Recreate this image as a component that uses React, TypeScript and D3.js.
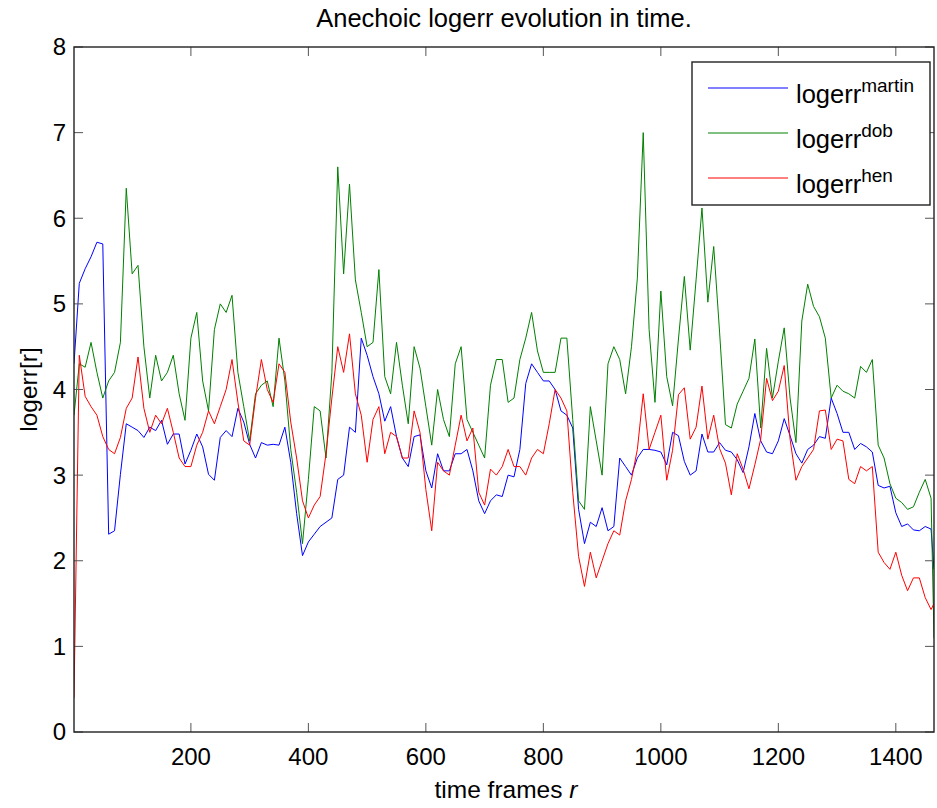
import React from 'react';
import { scaleLinear, line, range } from 'd3';

// frame indices sampled every 10 frames (first and last frame included)
const frames = [1, ...range(10, 1470, 10), 1465];

const logerrMartin = [
  4.3, 5.24, 5.41, 5.55, 5.72, 5.7, 2.31, 2.35, 3.01, 3.6, 3.56, 3.52, 3.44, 3.56, 3.52, 3.64, 3.36, 3.48, 3.48, 3.13,
  3.29, 3.48, 3.33, 3.01, 2.94, 3.44, 3.52, 3.45, 3.78, 3.62, 3.36, 3.2, 3.38, 3.35, 3.36, 3.35, 3.56, 3.15, 2.55, 2.06,
  2.22, 2.31, 2.4, 2.45, 2.5, 2.95, 3.0, 3.56, 3.5, 4.6, 4.4, 4.15, 3.95, 3.63, 3.8, 3.45, 3.2, 3.1, 3.45, 3.47,
  3.05, 2.85, 3.25, 3.05, 3.05, 3.25, 3.25, 3.3, 3.05, 2.7, 2.55, 2.7, 2.77, 2.75, 3.0, 2.98, 3.3, 4.07, 4.3, 4.2,
  4.1, 4.1, 4.0, 3.75, 3.7, 3.55, 2.6, 2.2, 2.45, 2.4, 2.62, 2.35, 2.4, 3.2, 3.1, 3.0, 3.2, 3.3, 3.3, 3.29,
  3.27, 3.12, 3.5, 3.46, 3.16, 3.0, 3.05, 3.48, 3.27, 3.27, 3.38, 3.29, 3.27, 3.18, 3.03, 3.33, 3.72, 3.4, 3.27, 3.25,
  3.4, 3.66, 3.46, 3.25, 3.14, 3.3, 3.35, 3.45, 3.43, 3.9, 3.72, 3.5, 3.5, 3.3, 3.37, 3.33, 3.27, 2.88, 2.85, 2.87,
  2.56, 2.4, 2.43, 2.36, 2.35, 2.4, 2.37, 1.9
];

const logerrDob = [
  3.7, 4.3, 4.26, 4.55, 4.2, 3.9, 4.1, 4.2, 4.55, 6.35, 5.35, 5.45, 4.5, 3.9, 4.4, 4.1, 4.2, 4.4, 3.95, 3.64,
  4.6, 4.9, 4.1, 3.75, 4.7, 5.0, 4.9, 5.1, 4.2, 3.8, 3.4, 3.95, 4.05, 4.1, 3.8, 4.6, 4.1, 3.3, 2.8, 2.2,
  2.95, 3.8, 3.75, 3.2, 4.2, 6.6, 5.35, 6.4, 5.28, 4.9, 4.5, 4.55, 5.4, 4.15, 3.95, 4.55, 4.05, 3.6, 4.5, 4.25,
  3.8, 3.35, 4.0, 3.65, 3.45, 4.3, 4.5, 3.65, 3.5, 3.35, 3.2, 4.05, 4.35, 4.35, 3.85, 3.9, 4.35, 4.6, 4.9, 4.45,
  4.2, 4.2, 4.2, 4.6, 4.6, 3.65, 2.7, 2.6, 3.8, 3.4, 3.0, 4.3, 4.5, 4.35, 3.95, 4.5, 5.3, 7.0, 4.7, 3.85,
  5.15, 4.15, 3.81, 4.59, 5.32, 4.46, 5.28, 6.12, 5.02, 5.67, 4.67, 3.59, 3.55, 3.83, 3.98, 4.13, 4.59, 3.55, 4.48, 3.9,
  4.33, 4.72, 3.9, 3.38, 4.8, 5.23, 4.97, 4.85, 4.6, 3.9, 4.05, 3.98, 3.95, 3.9, 4.27, 4.2, 4.35, 3.35, 3.2, 2.9,
  2.73, 2.68, 2.6, 2.63, 2.8, 2.95, 2.73, 1.1
];

const logerrHen = [
  0.4, 4.4, 3.92, 3.8, 3.7, 3.45, 3.3, 3.25, 3.44, 3.78, 3.9, 4.38, 3.78, 3.5, 3.7, 3.6, 3.78, 3.5, 3.2, 3.1,
  3.1, 3.35, 3.5, 3.75, 3.6, 3.8, 4.0, 4.35, 3.85, 3.4, 3.35, 3.9, 4.35, 4.0, 3.85, 4.3, 4.2, 3.62, 3.2, 2.7,
  2.5, 2.65, 2.75, 3.25, 3.9, 4.5, 4.2, 4.65, 3.95, 3.7, 3.15, 3.65, 3.8, 3.25, 3.5, 3.45, 3.2, 3.2, 3.75, 3.5,
  2.83, 2.35, 3.15, 3.05, 3.0, 3.35, 3.7, 3.4, 3.55, 2.8, 2.65, 3.07, 3.0, 3.1, 3.3, 3.1, 3.1, 3.0, 3.2, 3.3,
  3.25, 3.6, 4.0, 3.9, 3.75, 2.8, 2.05, 1.7, 2.1, 1.8, 2.0, 2.2, 2.35, 2.3, 2.7, 2.95, 3.3, 3.95, 3.3, 3.5,
  3.7, 2.94, 3.29, 3.94, 4.02, 3.42, 3.56, 4.04, 3.42, 3.7, 3.31, 3.14, 2.77, 3.25, 3.07, 2.84, 3.12, 3.42, 4.13, 3.87,
  3.98, 4.28, 3.42, 2.94, 3.1, 3.2, 3.3, 3.75, 3.76, 3.3, 3.42, 3.4, 2.95, 2.9, 3.1, 3.05, 3.1, 2.1, 1.98, 1.9,
  2.1, 1.83, 1.65, 1.8, 1.8, 1.57, 1.43, 1.5
];

const seriesNames = ['martin', 'dob', 'hen'];
const seriesColors = ['#0000ff', '#008000', '#ff0000'];
const xTicks = [200, 400, 600, 800, 1000, 1200, 1400];
const yTicks = [0, 1, 2, 3, 4, 5, 6, 7, 8];

const width = 937;
const height = 808;
const left = 74, right = 934, top = 47, bottom = 732;
const font = '"Liberation Sans", Arial, sans-serif';

export default function App() {
  const x = scaleLinear().domain([1, 1465]).range([left, right]);
  const y = scaleLinear().domain([0, 8]).range([bottom, top]);
  const path = line<number>().x((d, i) => x(frames[i])).y((d) => y(d));
  const series = [logerrMartin, logerrDob, logerrHen];
  const tickLen = 9;

  return (
    <svg width={width} height={height} style={{ position: 'absolute', left: 0, top: 0, background: '#fff' }}
      fontFamily={font}>
      <defs>
        <clipPath id="plot">
          <rect x={left} y={top} width={right - left} height={bottom - top} />
        </clipPath>
      </defs>
      <rect x={0} y={0} width={width} height={height} fill="#fff" />

      <g clipPath="url(#plot)">
        {series.map((s, i) => (
          <path key={i} d={path(s) || ''} fill="none" stroke={seriesColors[i]} strokeWidth={1} />
        ))}
      </g>

      {/* ticks */}
      {xTicks.map((t) => (
        <g key={'x' + t}>
          <line x1={x(t)} x2={x(t)} y1={bottom} y2={bottom - tickLen} stroke="#555" />
          <line x1={x(t)} x2={x(t)} y1={top} y2={top + tickLen} stroke="#555" />
          <text x={x(t)} y={765} fontSize={24} textAnchor="middle" fill="#000">{t}</text>
        </g>
      ))}
      {yTicks.map((t) => (
        <g key={'y' + t}>
          <line x1={left} x2={left + tickLen} y1={y(t)} y2={y(t)} stroke="#555" />
          <line x1={right} x2={right - tickLen} y1={y(t)} y2={y(t)} stroke="#555" />
          <text x={66} y={y(t)} dy="0.35em" fontSize={24} textAnchor="end" fill="#000">{t}</text>
        </g>
      ))}

      <rect x={left} y={top} width={right - left} height={bottom - top} fill="none" stroke="#222" strokeWidth={1.4} />

      <text x={(left + right) / 2} y={27} fontSize={25.5} textAnchor="middle" fill="#000">
        Anechoic logerr evolution in time.
      </text>
      <text x={506} y={798} fontSize={24.5} textAnchor="middle" fill="#000">
        time frames <tspan fontStyle="italic">r</tspan>
      </text>
      <text transform={`translate(37,${(top + bottom) / 2}) rotate(-90)`} fontSize={24.5} textAnchor="middle" fill="#000">
        logerr[r]
      </text>

      {/* legend */}
      <g>
        <rect x={692} y={62} width={238} height={143} fill="#fff" stroke="#222" strokeWidth={1.4} />
        {seriesNames.map((n, i) => {
          const ly = 88 + i * 45;
          return (
            <g key={n}>
              <line x1={708} x2={788} y1={ly} y2={ly} stroke={seriesColors[i]} strokeWidth={1} />
              <text x={796} y={ly + 15} fontSize={25.5} fill="#000">
                logerr<tspan dy={-11} fontSize={19}>{n}</tspan>
              </text>
            </g>
          );
        })}
      </g>
    </svg>
  );
}
